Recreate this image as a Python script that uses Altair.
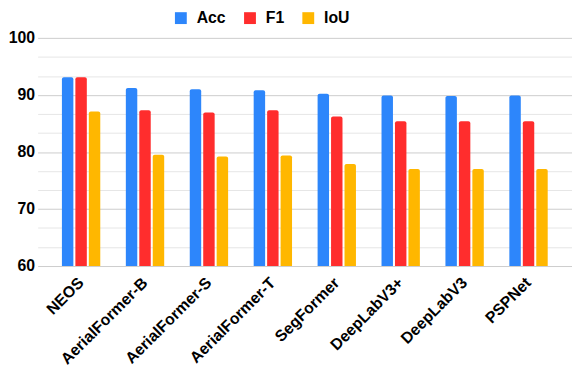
import altair as alt
import pandas as pd

models = ["NEOS", "AerialFormer-B", "AerialFormer-S", "AerialFormer-T",
          "SegFormer", "DeepLabV3+", "DeepLabV3", "PSPNet"]
metrics = ["Acc", "F1", "IoU"]
acc = [93.1, 91.2, 91.0, 90.8, 90.2, 89.9, 89.8, 89.9]
f1 = [93.1, 87.3, 86.9, 87.3, 86.2, 85.4, 85.4, 85.4]
iou = [87.1, 79.5, 79.2, 79.4, 77.9, 77.0, 77.0, 77.0]
colors = ["#2d86fb", "#ff2d2d", "#ffb700"]
y_ticks = [60, 60 + 10 / 3, 60 + 20 / 3, 70, 70 + 10 / 3, 70 + 20 / 3, 80,
           80 + 10 / 3, 80 + 20 / 3, 90, 90 + 10 / 3, 90 + 20 / 3, 100]

rows = []
for i, m in enumerate(models):
    for name, vals in zip(metrics, [acc, f1, iou]):
        rows.append({"model": m, "metric": name, "value": vals[i]})
df = pd.DataFrame(rows)

FONT = "Liberation Sans"

chart = alt.Chart(df).mark_bar(
    cornerRadiusTopLeft=2, cornerRadiusTopRight=2
).encode(
    x=alt.X("model:N", sort=models, title=None,
            scale=alt.Scale(paddingInner=0.4, paddingOuter=0.38),
            axis=alt.Axis(labelAngle=-45, labelFontWeight="bold", labelFontSize=16,
                          labelColor="#000", labelFont=FONT, ticks=False, domain=False,
                          labelPadding=14, labelAlign="right", labelBaseline="middle")),
    xOffset=alt.XOffset("metric:N", sort=metrics,
                        scale=alt.Scale(paddingInner=0.15, paddingOuter=0)),
    y=alt.Y("value:Q", title=None,
            scale=alt.Scale(domain=[60, 100], zero=False, nice=False),
            axis=alt.Axis(values=y_ticks, ticks=False, domain=False,
                          labelExpr="datum.value % 10 === 0 ? datum.label : ''",
                          labelFontWeight="bold", labelFontSize=16, labelColor="#000",
                          labelFont=FONT, labelPadding=3,
                          gridColor={"condition": {"test": "datum.value % 10 === 0", "value": "#cccccc"},
                                     "value": "#e6e6e6"},
                          gridWidth=1)),
    y2=alt.datum(60),
    color=alt.Color("metric:N", sort=metrics,
                    scale=alt.Scale(domain=metrics, range=colors),
                    legend=alt.Legend(title=None, orient="none", direction="horizontal",
                                      legendX=137, legendY=-28,
                                      symbolType="square", symbolSize=144,
                                      symbolStrokeWidth=0, symbolOpacity=1,
                                      labelFontSize=16, labelFontWeight="bold",
                                      labelFont=FONT, labelColor="#000",
                                      labelOffset=8, columnPadding=16)),
).properties(
    width=541, height=231, padding=0
).configure_view(stroke=None)

chart.save("out.html", embed_options={"renderer": "svg", "actions": False})
